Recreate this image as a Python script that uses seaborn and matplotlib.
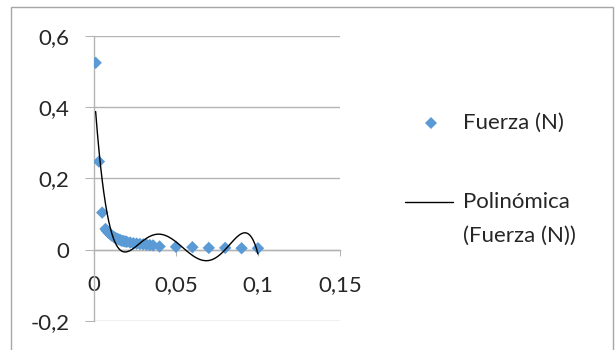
import numpy as np
import pandas as pd
import matplotlib
matplotlib.use("Agg")
import matplotlib.pyplot as plt
import seaborn as sns
from matplotlib.ticker import FuncFormatter, FixedLocator
from matplotlib.lines import Line2D
from matplotlib.patches import Rectangle

# ---- data ----
distancia = [0.001, 0.003, 0.005, 0.007, 0.008, 0.009, 0.010, 0.011, 0.012,
             0.013, 0.014, 0.015, 0.016, 0.017, 0.018, 0.019, 0.020, 0.022,
             0.024, 0.026, 0.028, 0.030, 0.032, 0.034, 0.036, 0.040, 0.050,
             0.060, 0.070, 0.080, 0.090, 0.100]
fuerza = [0.524, 0.247, 0.104, 0.058, 0.052, 0.047, 0.043, 0.039, 0.036,
          0.033, 0.031, 0.029, 0.027, 0.025, 0.024, 0.023, 0.022, 0.020,
          0.018, 0.017, 0.016, 0.015, 0.014, 0.013, 0.012, 0.009, 0.008,
          0.007, 0.005, 0.005, 0.004, 0.004]
x_ticks = [0, 0.05, 0.10, 0.15]
y_ticks = [-0.2, 0, 0.2, 0.4, 0.6]
serie_label = "Fuerza (N)"
trend_label = ["Polinómica", "(Fuerza (N))"]
poly_order = 5

df = pd.DataFrame({"x": distancia, "y": fuerza})

sns.set_theme(style="white")
plt.rcParams["font.family"] = ["Lato", "DejaVu Sans"]

W, H = 616, 350
fig = plt.figure(figsize=(W / 100, H / 100), dpi=100)
fig.patch.set_facecolor("white")

def fx(px):
    return px / W

def fy(py):
    return 1 - py / H

ax = fig.add_axes([fx(94), fy(321), fx(340) - fx(94), fy(35.7) - fy(321)])
ax.set_facecolor("white")

grid_c = "#b4b4b4"
txt_c = "#262626"
blue = "#5b9bd5"

sns.regplot(data=df, x="x", y="y", order=poly_order, scatter=False, ci=None,
            truncate=True, ax=ax,
            line_kws=dict(color="black", lw=1.0, zorder=4))
sns.scatterplot(data=df, x="x", y="y", marker="D", s=40, color=blue,
                edgecolor="none", linewidth=0, ax=ax, zorder=3, legend=False)

ax.set_xlim(0, 0.15)
ax.set_ylim(-0.2, 0.6)
ax.set_xlabel("")
ax.set_ylabel("")

ax.xaxis.set_major_locator(FixedLocator(x_ticks))
ax.yaxis.set_major_locator(FixedLocator(y_ticks))

def comma_fmt(v, pos=None):
    if abs(v) < 1e-12:
        return "0"
    return f"{v:g}".replace(".", ",")

ax.xaxis.set_major_formatter(FuncFormatter(comma_fmt))
ax.yaxis.set_major_formatter(FuncFormatter(comma_fmt))

ax.grid(axis="y", color=grid_c, lw=1.0)
ax.grid(axis="x", visible=False)
ax.set_axisbelow(True)

for s in ["top", "right"]:
    ax.spines[s].set_visible(False)
ax.spines["bottom"].set_position(("data", 0))
ax.spines["bottom"].set_color(grid_c)
ax.spines["left"].set_color(grid_c)
ax.spines["bottom"].set_linewidth(1.0)
ax.spines["left"].set_linewidth(1.0)
ax.spines["bottom"].set_zorder(1)

ax.tick_params(axis="y", direction="out", length=6.5, width=0.75, color=grid_c,
               pad=11, labelsize=16, labelcolor=txt_c, left=True)
ax.tick_params(axis="x", direction="out", length=4.3, width=0.75, color=grid_c,
               pad=14, labelsize=16, labelcolor=txt_c, bottom=True)

# chart-area border
fig.add_artist(Rectangle((fx(11), -0.05), fx(613) - fx(11), fy(7) + 0.05,
                         transform=fig.transFigure, fill=False,
                         edgecolor="#a6a6a6", lw=1.0))

# legend (drawn manually to match layout)
fig.add_artist(Line2D([fx(431)], [fy(123)], marker="D", markersize=6.5,
                      color=blue, markeredgewidth=0, linestyle="none",
                      transform=fig.transFigure))
fig.text(fx(463), fy(123), serie_label, fontsize=16, color=txt_c,
         ha="left", va="center")
fig.add_artist(Line2D([fx(405), fx(453)], [fy(202), fy(202)], color="black",
                      lw=1.0, transform=fig.transFigure))
fig.text(fx(463), fy(202), trend_label[0], fontsize=16, color=txt_c,
         ha="left", va="center")
fig.text(fx(463), fy(236), trend_label[1], fontsize=16, color=txt_c,
         ha="left", va="center")

fig.savefig("out.png", dpi=100, facecolor="white")
